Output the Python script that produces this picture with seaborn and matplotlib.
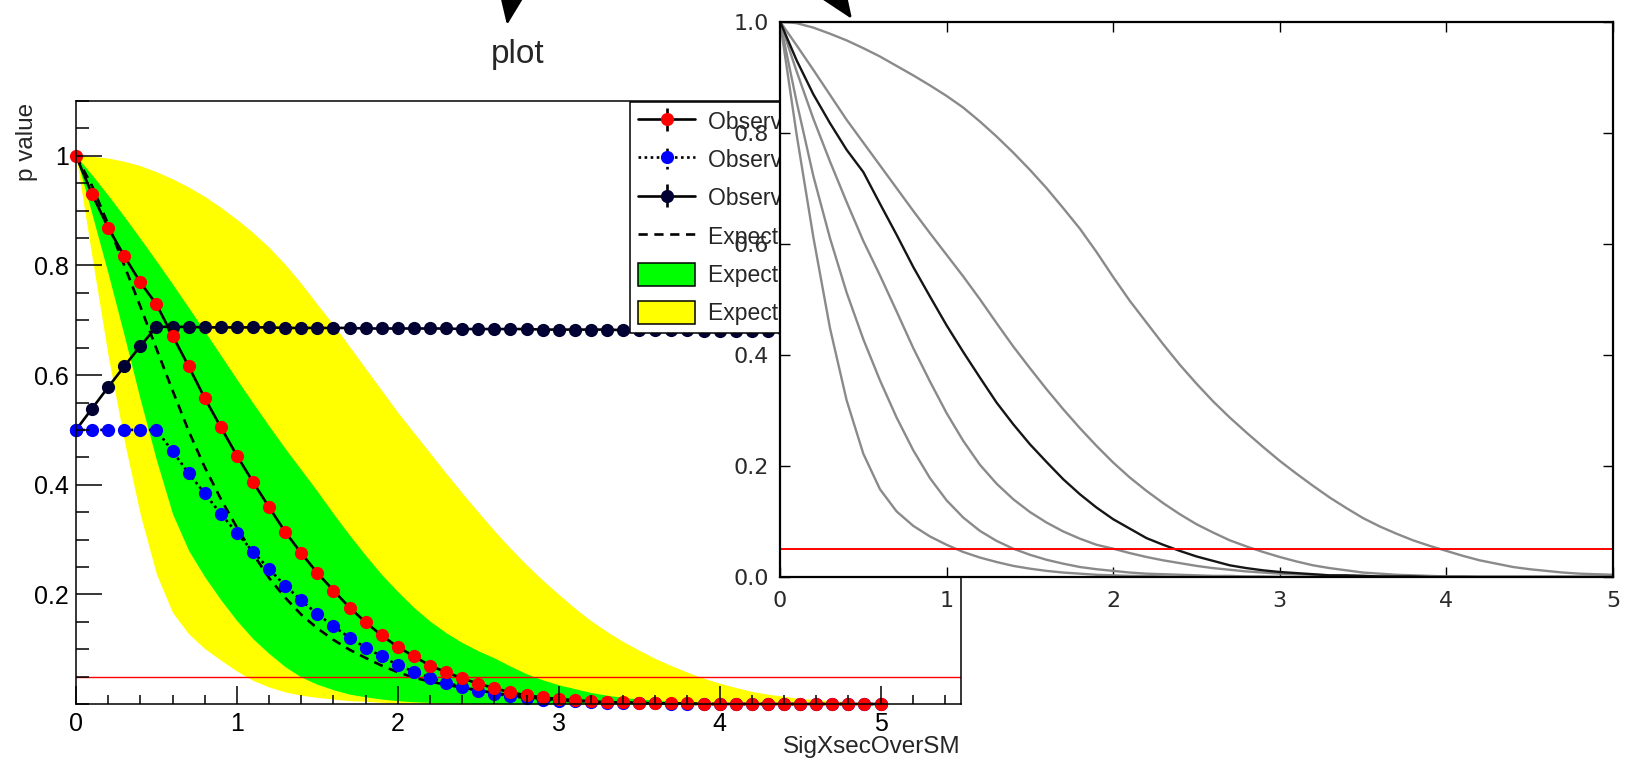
import matplotlib
matplotlib.use("Agg")
import matplotlib.pyplot as plt
from matplotlib.ticker import FixedLocator, FixedFormatter, MultipleLocator
from matplotlib.patches import Patch
import seaborn as sns

sns.set_theme(style="ticks")
plt.rcParams["font.family"] = ["Liberation Sans", "DejaVu Sans"]

# ---------------------------------------------------------------- data
# scanned signal strength (SigXsecOverSM)
mu = [0.0, 0.1, 0.2, 0.3, 0.4, 0.5, 0.6, 0.7, 0.8, 0.9,
      1.0, 1.1, 1.2, 1.3, 1.4, 1.5, 1.6, 1.7, 1.8, 1.9,
      2.0, 2.1, 2.2, 2.3, 2.4, 2.5, 2.6, 2.7, 2.8, 2.9,
      3.0, 3.1, 3.2, 3.3, 3.4, 3.5, 3.6, 3.7, 3.8, 3.9,
      4.0, 4.1, 4.2, 4.3, 4.4, 4.5, 4.6, 4.7, 4.8, 4.9, 5.0]

# observed CLs
cls_obs = [1.000, 0.930, 0.869, 0.817, 0.769, 0.729, 0.672, 0.616, 0.558, 0.505,
           0.453, 0.405, 0.359, 0.314, 0.275, 0.239, 0.207, 0.176, 0.149, 0.125,
           0.104, 0.087, 0.070, 0.058, 0.047, 0.037, 0.029, 0.021, 0.016, 0.012,
           0.009, 0.007, 0.005, 0.003, 0.003, 0.002, 0.001, 0.001, 0.001, 0.000,
           0.000, 0.000, 0.000, 0.000, 0.000, 0.000, 0.000, 0.000, 0.000, 0.000, 0.000]

# observed CLs+b
clsb_obs = [0.500, 0.500, 0.500, 0.500, 0.500, 0.500, 0.461, 0.421, 0.384, 0.347,
            0.312, 0.278, 0.246, 0.216, 0.189, 0.164, 0.142, 0.121, 0.103, 0.087,
            0.071, 0.059, 0.048, 0.039, 0.031, 0.024, 0.019, 0.014, 0.011, 0.008,
            0.006, 0.005, 0.003, 0.002, 0.002, 0.001, 0.001, 0.000, 0.000, 0.000,
            0.000, 0.000, 0.000, 0.000, 0.000, 0.000, 0.000, 0.000, 0.000, 0.000, 0.000]

# observed CLb
clb_obs = [0.500, 0.539, 0.578, 0.616, 0.653, 0.688, 0.688, 0.688, 0.687, 0.687,
           0.687, 0.687, 0.687, 0.686, 0.686, 0.686, 0.686, 0.686, 0.685, 0.685,
           0.685, 0.685, 0.685, 0.685, 0.684, 0.684, 0.684, 0.684, 0.684, 0.683,
           0.683, 0.683, 0.683, 0.683, 0.682, 0.682, 0.682, 0.682, 0.682, 0.681,
           0.681, 0.681, 0.681, 0.681, 0.680, 0.680, 0.680, 0.680, 0.680, 0.680, 0.680]

# expected CLs: median and +-1 / +-2 sigma band edges
exp_median = [1.000, 0.945, 0.875, 0.800, 0.725, 0.648, 0.572, 0.498, 0.432, 0.374,
              0.322, 0.274, 0.230, 0.194, 0.163, 0.138, 0.117, 0.099, 0.084, 0.070,
              0.058, 0.048, 0.041, 0.035, 0.030, 0.025, 0.020, 0.016, 0.012, 0.010,
              0.007, 0.006, 0.004, 0.003, 0.002, 0.002, 0.001, 0.001, 0.000, 0.000,
              0.000, 0.000, 0.000, 0.000, 0.000, 0.000, 0.000, 0.000, 0.000, 0.000, 0.000]
exp_plus1 = [1.000, 0.965, 0.928, 0.889, 0.849, 0.808, 0.766, 0.723, 0.680, 0.636,
             0.592, 0.549, 0.507, 0.466, 0.427, 0.388, 0.347, 0.308, 0.271, 0.236,
             0.205, 0.176, 0.151, 0.130, 0.112, 0.097, 0.084, 0.069, 0.055, 0.044,
             0.035, 0.028, 0.021, 0.016, 0.012, 0.009, 0.007, 0.005, 0.004, 0.003,
             0.002, 0.002, 0.001, 0.001, 0.000, 0.000, 0.000, 0.000, 0.000, 0.000, 0.000]
exp_minus1 = [1.000, 0.893, 0.785, 0.672, 0.555, 0.445, 0.347, 0.280, 0.232, 0.190,
              0.152, 0.119, 0.092, 0.068, 0.049, 0.036, 0.026, 0.018, 0.013, 0.009,
              0.006, 0.004, 0.003, 0.002, 0.002, 0.001, 0.001, 0.000, 0.000, 0.000,
              0.000, 0.000, 0.000, 0.000, 0.000, 0.000, 0.000, 0.000, 0.000, 0.000,
              0.000, 0.000, 0.000, 0.000, 0.000, 0.000, 0.000, 0.000, 0.000, 0.000, 0.000]
exp_plus2 = [1.000, 0.999, 0.996, 0.990, 0.982, 0.971, 0.958, 0.943, 0.926, 0.906,
             0.884, 0.860, 0.833, 0.802, 0.767, 0.729, 0.692, 0.652, 0.612, 0.572,
             0.532, 0.495, 0.458, 0.421, 0.385, 0.350, 0.316, 0.284, 0.254, 0.226,
             0.200, 0.175, 0.152, 0.132, 0.114, 0.098, 0.083, 0.070, 0.058, 0.047,
             0.038, 0.030, 0.023, 0.018, 0.014, 0.010, 0.008, 0.006, 0.004, 0.003, 0.002]
exp_minus2 = [1.000, 0.815, 0.635, 0.480, 0.345, 0.237, 0.167, 0.128, 0.101, 0.080,
              0.060, 0.043, 0.031, 0.022, 0.016, 0.012, 0.009, 0.006, 0.005, 0.003,
              0.002, 0.002, 0.001, 0.001, 0.000, 0.000, 0.000, 0.000, 0.000, 0.000,
              0.000, 0.000, 0.000, 0.000, 0.000, 0.000, 0.000, 0.000, 0.000, 0.000,
              0.000, 0.000, 0.000, 0.000, 0.000, 0.000, 0.000, 0.000, 0.000, 0.000, 0.000]

# expected curves of the second (line-only) rendering
line_plus2 = [1.000, 0.997, 0.989, 0.978, 0.966, 0.952, 0.937, 0.920, 0.903, 0.885,
              0.866, 0.845, 0.820, 0.793, 0.764, 0.733, 0.700, 0.664, 0.627, 0.585,
              0.540, 0.497, 0.458, 0.419, 0.382, 0.348, 0.316, 0.287, 0.260, 0.234,
              0.209, 0.186, 0.164, 0.143, 0.124, 0.106, 0.091, 0.078, 0.066, 0.056,
              0.047, 0.038, 0.030, 0.024, 0.018, 0.014, 0.011, 0.008, 0.006, 0.005, 0.004]
line_plus1 = [1.000, 0.957, 0.913, 0.868, 0.823, 0.782, 0.741, 0.700, 0.659, 0.619,
              0.580, 0.541, 0.500, 0.457, 0.415, 0.376, 0.338, 0.302, 0.268, 0.236,
              0.206, 0.179, 0.155, 0.133, 0.113, 0.095, 0.080, 0.066, 0.055, 0.045,
              0.036, 0.028, 0.021, 0.016, 0.012, 0.008, 0.006, 0.004, 0.003, 0.002,
              0.001, 0.001, 0.000, 0.000, 0.000, 0.000, 0.000, 0.000, 0.000, 0.000, 0.000]
line_median = [1.000, 0.910, 0.825, 0.748, 0.675, 0.605, 0.543, 0.478, 0.412, 0.352,
               0.295, 0.245, 0.202, 0.168, 0.140, 0.117, 0.098, 0.082, 0.069, 0.058,
               0.051, 0.043, 0.036, 0.030, 0.025, 0.020, 0.016, 0.013, 0.010, 0.008,
               0.006, 0.005, 0.004, 0.003, 0.002, 0.002, 0.001, 0.001, 0.000, 0.000,
               0.000, 0.000, 0.000, 0.000, 0.000, 0.000, 0.000, 0.000, 0.000, 0.000, 0.000]
line_minus1 = [1.000, 0.855, 0.722, 0.610, 0.512, 0.428, 0.354, 0.287, 0.228, 0.178,
               0.138, 0.107, 0.083, 0.065, 0.051, 0.040, 0.031, 0.024, 0.018, 0.014,
               0.011, 0.008, 0.006, 0.005, 0.004, 0.003, 0.002, 0.002, 0.001, 0.001,
               0.000, 0.000, 0.000, 0.000, 0.000, 0.000, 0.000, 0.000, 0.000, 0.000,
               0.000, 0.000, 0.000, 0.000, 0.000, 0.000, 0.000, 0.000, 0.000, 0.000, 0.000]
line_minus2 = [1.000, 0.796, 0.612, 0.448, 0.318, 0.222, 0.158, 0.118, 0.092, 0.073,
               0.058, 0.045, 0.035, 0.027, 0.020, 0.015, 0.011, 0.008, 0.006, 0.004,
               0.003, 0.002, 0.002, 0.001, 0.000, 0.000, 0.000, 0.000, 0.000, 0.000,
               0.000, 0.000, 0.000, 0.000, 0.000, 0.000, 0.000, 0.000, 0.000, 0.000,
               0.000, 0.000, 0.000, 0.000, 0.000, 0.000, 0.000, 0.000, 0.000, 0.000, 0.000]

cl_threshold = 0.05

left_xticks = [0, 1, 2, 3, 4, 5]
left_xlabels = ["0", "1", "2", "3", "4", "5"]
left_yticks = [0.2, 0.4, 0.6, 0.8, 1.0]
left_ylabels = ["0.2", "0.4", "0.6", "0.8", "1"]
right_xticks = [0, 1, 2, 3, 4, 5]
right_xlabels = ["0", "1", "2", "3", "4", "5"]
right_yticks = [0.0, 0.2, 0.4, 0.6, 0.8, 1.0]
right_ylabels = ["0.0", "0.2", "0.4", "0.6", "0.8", "1.0"]

legend_labels = ["Observed CLs", "Observed CLs+b", "Observed CLb",
                 "Expected CLs - Median", "Expected CLs \u00b1 1 \u03c3",
                 "Expected CLs \u00b1 2 \u03c3"]

# ---------------------------------------------------------------- layout
W, H = 1640, 761
fig = plt.figure(figsize=(W / 100, H / 100), dpi=100)
fig.patch.set_facecolor("white")


def fx(px):
    return px / W


def fy(py):
    return 1 - py / H


# ---------------------------------------------------------------- hypotest inverter plot
ax = fig.add_axes([fx(76), fy(704), fx(961) - fx(76), fy(101) - fy(704)])
ax.set_zorder(1)
ax.set_facecolor("white")

YELLOW, GREEN = "#ffff00", "#00ff00"
LW = 1.9
ax.fill_between(mu, exp_minus2, exp_plus2, color=YELLOW, lw=0, zorder=1.0)
ax.fill_between(mu, exp_minus1, exp_plus1, color=GREEN, lw=0, zorder=1.1)
sns.lineplot(x=mu, y=exp_median, ax=ax, color="black", lw=LW,
             linestyle=(0, (3.5, 2.5)), errorbar=None, zorder=1.5)
ax.axhline(cl_threshold, color="red", lw=1.0, zorder=1.6)

NAVY = "#000033"
MS = 9.5
point_style = dict(marker="o", markersize=MS, markeredgewidth=0,
                   errorbar=None, clip_on=False, lw=LW, color="black")
sns.lineplot(x=mu, y=clb_obs, ax=ax, markerfacecolor=NAVY,
             markeredgecolor=NAVY, zorder=2.0, **point_style)
sns.lineplot(x=mu, y=clsb_obs, ax=ax, markerfacecolor="blue",
             markeredgecolor="blue", zorder=2.1,
             **{**point_style, "linestyle": (0, (1, 1.3))})
sns.lineplot(x=mu, y=cls_obs, ax=ax, markerfacecolor="red",
             markeredgecolor="red", zorder=2.2, **point_style)

ax.set_xlim(0, 5.5)
ax.set_ylim(0, 1.1)
ax.set_xlabel("")
ax.set_ylabel("")
ax.xaxis.set_major_locator(FixedLocator(left_xticks))
ax.xaxis.set_major_formatter(FixedFormatter(left_xlabels))
ax.xaxis.set_minor_locator(MultipleLocator(0.2))
ax.yaxis.set_major_locator(FixedLocator(left_yticks))
ax.yaxis.set_major_formatter(FixedFormatter(left_ylabels))
ax.yaxis.set_minor_locator(MultipleLocator(0.05))
ax.set_axisbelow(False)
ax.tick_params(which="both", direction="in", top=False, right=False,
               color="black", width=1.1, labelcolor="black")
ax.tick_params(axis="y", which="major", length=19, pad=5, labelsize=18)
ax.tick_params(axis="y", which="minor", length=9.5)
ax.tick_params(axis="x", which="major", length=13, pad=6, labelsize=18)
ax.tick_params(axis="x", which="minor", length=6.5)
for s in ax.spines.values():
    s.set_visible(True)
    s.set_color("black")
    s.set_linewidth(1.1)

# legend entries styled like the graphs (marker, line and error bar)
h_cls = ax.errorbar([], [], yerr=[], fmt="-o", color="black", lw=LW, ms=MS,
                    mfc="red", mec="red", mew=0, ecolor="black",
                    elinewidth=LW, capsize=3.5, capthick=LW)
h_clsb = ax.errorbar([], [], yerr=[], fmt="o", linestyle=(0, (1, 1.3)),
                     color="black", lw=LW, ms=MS, mfc="blue", mec="blue",
                     mew=0, ecolor="black", elinewidth=LW, capsize=0)
for coll in h_clsb.lines[2]:
    coll.set_linestyle((0, (1, 1.3)))
h_clb = ax.errorbar([], [], yerr=[], fmt="-o", color="black", lw=LW, ms=MS,
                    mfc=NAVY, mec=NAVY, mew=0, ecolor="black",
                    elinewidth=LW, capsize=3.5, capthick=LW)
h_med = ax.plot([], [], color="black", lw=LW, linestyle=(0, (3.5, 2.5)))[0]
h_g = Patch(facecolor=GREEN, edgecolor="black", lw=1.1)
h_y = Patch(facecolor=YELLOW, edgecolor="black", lw=1.1)

leg = ax.legend([h_cls, h_clsb, h_clb, h_med, h_g, h_y], legend_labels,
                loc="upper left", bbox_to_anchor=(fx(630), fy(101.5)),
                bbox_transform=fig.transFigure, fontsize=16.5, frameon=True,
                fancybox=False, framealpha=1, edgecolor="black",
                borderpad=0.35, borderaxespad=0, handlelength=2.5,
                handleheight=1.15, handletextpad=0.55, labelspacing=0.62,
                numpoints=1)
leg.get_frame().set_linewidth(1.1)
leg.set_zorder(5)

fig.text(fx(518), fy(54), "plot", ha="center", va="center", fontsize=24)
fig.text(fx(27), fy(103), "p value", rotation=90, ha="center", va="top",
         fontsize=17.5)
fig.text(fx(961), fy(747), "SigXsecOverSM", ha="right", va="center",
         fontsize=17.5)

# ---------------------------------------------------------------- line-only rendering
ax2 = fig.add_axes([fx(780), fy(577), fx(1613) - fx(780), fy(21.5) - fy(577)])
ax2.set_zorder(2)
ax2.set_facecolor("white")

for curve in [line_plus2, line_plus1, line_median, line_minus1, line_minus2]:
    sns.lineplot(x=mu, y=curve, ax=ax2, color="#8a8a8a", lw=1.7, errorbar=None)
sns.lineplot(x=mu, y=cls_obs, ax=ax2, color="#151515", lw=1.7, errorbar=None)
ax2.axhline(cl_threshold, color="red", lw=1.4)

ax2.set_xlim(0, 5)
ax2.set_ylim(0, 1)
ax2.set_xlabel("")
ax2.set_ylabel("")
ax2.xaxis.set_major_locator(FixedLocator(right_xticks))
ax2.xaxis.set_major_formatter(FixedFormatter(right_xlabels))
ax2.yaxis.set_major_locator(FixedLocator(right_yticks))
ax2.yaxis.set_major_formatter(FixedFormatter(right_ylabels))
ax2.tick_params(which="both", direction="in", top=True, right=True,
                length=7.5, width=1.0, color="black", labelsize=16,
                labelcolor="#2a2a2a")
ax2.tick_params(axis="x", pad=10)
ax2.tick_params(axis="y", pad=8)
for lab in ax2.get_xticklabels() + ax2.get_yticklabels():
    lab.set_fontfamily("DejaVu Sans")
for s in ax2.spines.values():
    s.set_visible(True)
    s.set_color("black")
    s.set_linewidth(1.6)

# pointer arrows entering from the top edge
arrow_kw = dict(arrowstyle="-|>,head_length=1.1,head_width=0.45",
                mutation_scale=20, color="black", lw=2,
                shrinkA=0, shrinkB=0)
ax2.annotate("", xy=(507, H - 25), xycoords="figure pixels",
             xytext=(523, H + 75), textcoords="figure pixels",
             arrowprops=arrow_kw, annotation_clip=False)
ax2.annotate("", xy=(852, H - 19), xycoords="figure pixels",
             xytext=(777, H + 91), textcoords="figure pixels",
             arrowprops=arrow_kw, annotation_clip=False)

fig.savefig("out.png", dpi=100, facecolor="white")
